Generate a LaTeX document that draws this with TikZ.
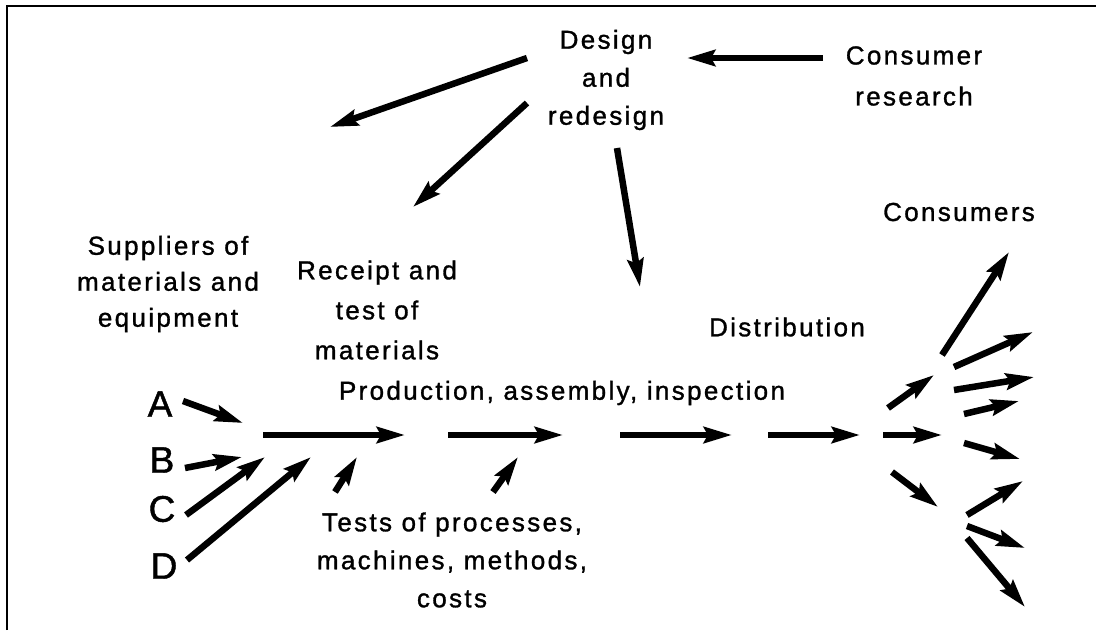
\documentclass[tikz,border=0pt]{standalone}
\usepackage{fontspec}
\setmainfont{Liberation Sans}[LetterSpace=9.0,FakeBold=1.2]
\usetikzlibrary{arrows.meta}
\begin{document}
\begin{tikzpicture}[x=1pt,y=-1pt,
  arr/.style={line width=6.5pt,-{Stealth[length=28pt,width=16pt,inset=4pt]}},
  lbl/.style={align=center,inner sep=0pt,font=\fontsize{26}{38}\selectfont},
  letter/.style={inner sep=0pt,font=\fontsize{37}{40}\selectfont}]
\useasboundingbox (0,0) rectangle (1096,630);
% frame
\draw[line width=2pt] (7,630) -- (7,6) -- (1096,6);
% labels
\node[lbl] (design) at (606,80) {Design\\and\\redesign};
\node[lbl,font=\fontsize{26}{41}\selectfont] (consres) at (914,76) {Consumer\\research};
\node[lbl,font=\fontsize{26}{36}\selectfont] (suppliers) at (168,284) {Suppliers of\\materials and\\equipment};
\node[lbl,font=\fontsize{26}{40}\selectfont] (receipt) at (377,310) {Receipt and\\test of\\materials};
\node[lbl] (tests) at (452,560) {Tests of processes,\\machines, methods,\\costs};
\node[lbl] (production) at (562,393) {Production, assembly, inspection};
\node[lbl] (distribution) at (787,327) {Distribution};
\node[lbl] (consumers) at (959,212) {Consumers};
\node[letter] (A) at (160,404) {A};
\node[letter] (B) at (162,460) {B};
\node[letter] (C) at (162,509) {C};
\node[letter] (D) at (164,566) {D};
% arrows
\foreach \n/\s/\e in {
  d1/{527,58}/{330,127},
  d2/{527,103}/{413,207},
  d3/{617,148}/{640,287},
  cr/{823,58}/{687,58},
  m1/{263,435}/{405,435},
  m2/{448,435}/{563,435},
  m3/{620,435}/{732,435},
  m4/{768,435}/{860,435},
  m5/{883,435}/{942,435},
  sa/{183,401}/{243,423},
  sb/{185,468}/{242,457},
  sc/{186,515}/{265,457},
  sd/{187,560}/{311,457},
  t1/{335,492}/{357,457},
  t2/{493,492}/{518,457},
  fu/{888,408}/{934,375},
  fd/{892,472}/{938,507},
  c1/{942,355}/{1009,252},
  c2/{954,367}/{1033,332},
  c3/{954,390}/{1034,377},
  c4/{964,414}/{1019,401},
  c5/{964,443}/{1020,459},
  c6/{967,515}/{1023,481},
  c7/{967,526}/{1025,548},
  c8/{967,538}/{1025,607}}
{
  \coordinate (\n s) at (\s);
  \coordinate (\n e) at (\e);
  \draw[arr] (\n s) -- (\n e);
}
\end{tikzpicture}
\end{document}
